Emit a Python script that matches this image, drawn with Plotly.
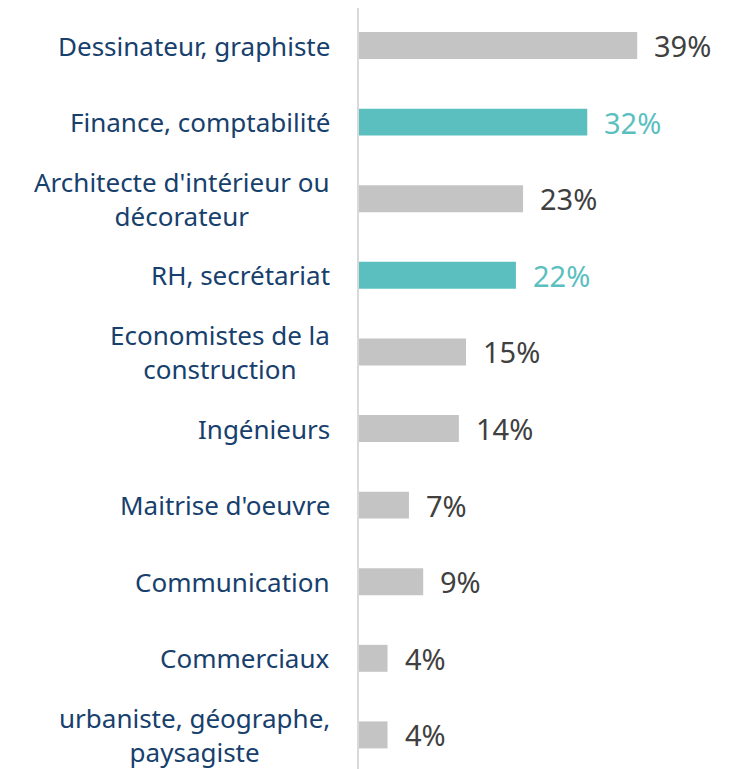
import plotly.graph_objects as go

categories = [
    "Dessinateur, graphiste",
    "Finance, comptabilité",
    "Architecte d'intérieur ou<br>décorateur",
    "RH, secrétariat",
    "Economistes de la<br>construction",
    "Ingénieurs",
    "Maitrise d'oeuvre",
    "Communication",
    "Commerciaux",
    "urbaniste, géographe,<br>paysagiste",
]
values = [39, 32, 23, 22, 15, 14, 7, 9, 4, 4]
highlight = [False, True, False, True, False, False, False, False, False, False]

GRAY = "#C4C4C4"
TEAL = "#5BBFBF"
LABEL_GRAY = "#404040"
CAT_BLUE = "#17406D"
CAT_FONT = "Noto Sans"
VAL_FONT = "Noto Sans"

ypos = list(range(len(categories)))
bar_colors = [TEAL if h else GRAY for h in highlight]
text_colors = [TEAL if h else LABEL_GRAY for h in highlight]

fig = go.Figure(go.Bar(
    x=values, y=ypos, orientation="h",
    marker=dict(color=bar_colors, line=dict(width=0)),
    width=0.352,
    hoverinfo="skip",
))

annotations = []
for i, (cat, v, tc) in enumerate(zip(categories, values, text_colors)):
    annotations.append(dict(
        x=0, xref="paper", y=i, yref="y", text=cat, showarrow=False,
        xanchor="right", yanchor="middle", align="center", xshift=-27,
        font=dict(family=CAT_FONT, size=26, color=CAT_BLUE),
    ))
    annotations.append(dict(
        x=v, xref="x", y=i, yref="y", text=f"{v}%", showarrow=False,
        xanchor="left", yanchor="middle", xshift=15,
        font=dict(family=VAL_FONT, size=29, color=tc),
    ))

fig.update_layout(
    width=736, height=761,
    margin=dict(l=351, r=0, t=0, b=0),
    paper_bgcolor="white", plot_bgcolor="white",
    showlegend=False,
    annotations=annotations,
    xaxis=dict(range=[0, 53.97], visible=False, fixedrange=True),
    yaxis=dict(range=[9.445, -0.49], showticklabels=False, showgrid=False,
               zeroline=False, showline=True, linecolor="#D9D9D9", linewidth=2,
               ticks=""),
)

fig.write_html("out.html")
